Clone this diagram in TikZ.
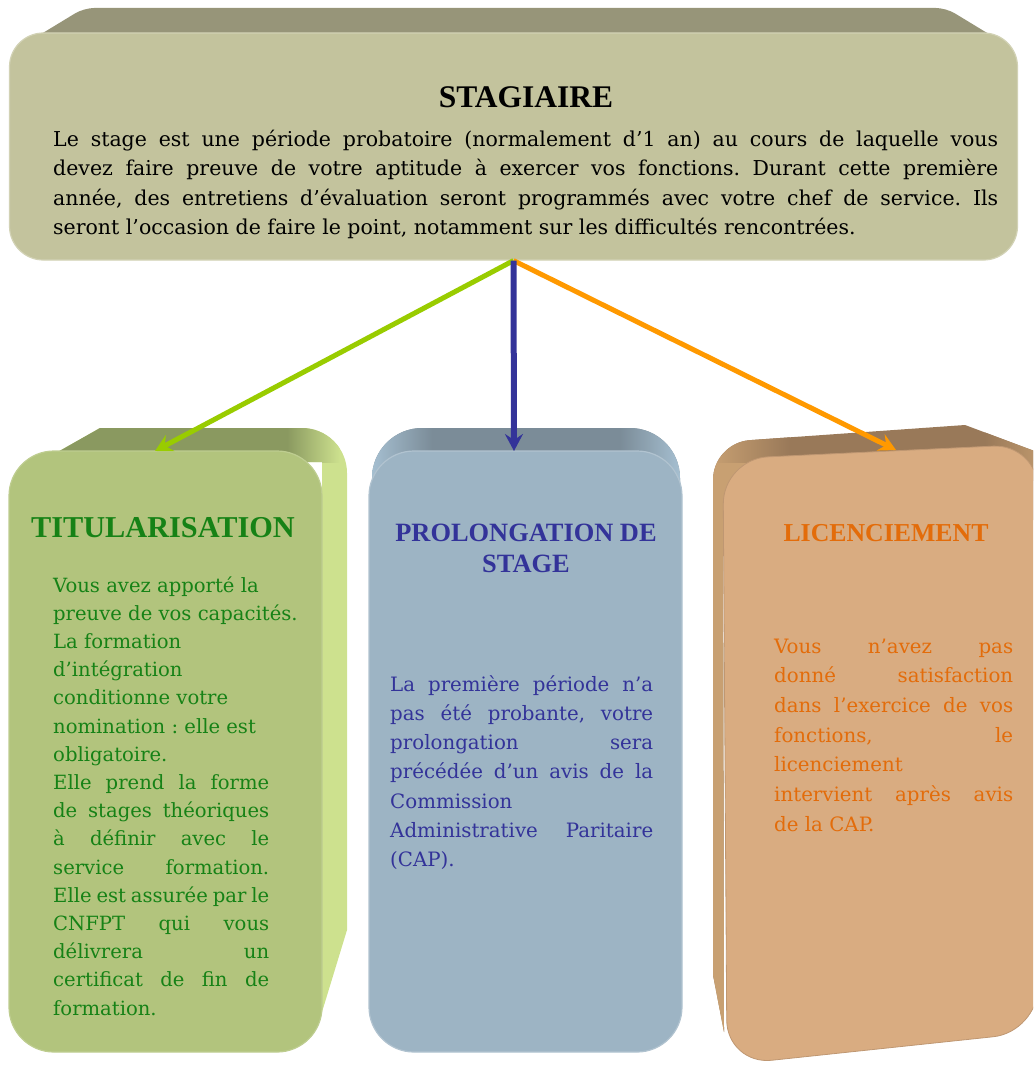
\documentclass[tikz,border=0pt]{standalone}
\usepackage{fontspec}
\setmainfont{DejaVu Serif}
\newfontfamily\titlefont{Liberation Serif}
\usetikzlibrary{arrows.meta}

% face colours
\definecolor{frontT}{RGB}{195,195,157}
\definecolor{topT}{RGB}{151,149,121}
\definecolor{frontL}{RGB}{178,196,125}
\definecolor{topL}{RGB}{138,153,96}
\definecolor{sideL}{RGB}{205,225,142}
\definecolor{frontM}{RGB}{157,180,196}
\definecolor{topM}{RGB}{123,140,152}
\definecolor{sideM}{RGB}{168,194,212}
\definecolor{frontR}{RGB}{217,172,129}
\definecolor{topR}{RGB}{153,121,89}
\definecolor{sideR}{RGB}{200,160,114}
% text and connector colours
\definecolor{txtL}{RGB}{22,130,22}
\definecolor{txtM}{RGB}{51,51,153}
\definecolor{txtR}{RGB}{227,108,10}
\definecolor{arrL}{RGB}{153,204,0}
\definecolor{arrM}{RGB}{51,51,153}
\definecolor{arrR}{RGB}{255,153,0}

% one line stretched to the column width, one line at its natural width
\newcommand\jline[1]{\hbox to \hsize{#1}}
\newcommand\nline[1]{\hbox{#1}}

\tikzset{
  frontface/.style={inner sep=0pt, rounded corners=#1},
  conn/.style={line width=5pt, -{Stealth[length=17pt,width=18pt,inset=6pt]}},
  bodytext/.style={anchor=base west, inner sep=0pt},
  boxtitle/.style={anchor=base, inner sep=0pt, font=\titlefont\bfseries},
}

\begin{document}
\frenchspacing
\begin{tikzpicture}[x=1pt,y=-1pt]
\useasboundingbox (0,0) rectangle (1033,1065);
\clip (0,0) rectangle (1033,1065);

% ---------- STAGIAIRE block ----------
\fill[topT, rounded corners=10] (28,42) -- (84,8) -- (946,8) -- (1002,42) -- cycle;
\node[frontface=34, fill=frontT, draw=frontT!75!white, line width=1.2pt,
      minimum width=1008pt, minimum height=227pt] (stagiaire) at (513.5,146.5) {};
\node[boxtitle, font=\titlefont\bfseries\fontsize{31.5}{36}\selectfont] (stagtitle) at (526,107) {STAGIAIRE};
\node[bodytext] (stagbody) at (53,146) {\vtop{\hsize=945pt \fontsize{20.5}{29.5}\selectfont
  \jline{Le stage est une période probatoire (normalement d’1 an) au cours de laquelle vous}
  \jline{devez faire preuve de votre aptitude à exercer vos fonctions. Durant cette première}
  \jline{année, des entretiens d’évaluation seront programmés avec votre chef de service. Ils}
  \nline{seront l’occasion de faire le point, notamment sur les difficultés rencontrées.}}};

% ---------- TITULARISATION block ----------
\def\silL{(40,462) -- (100,428) -- (302,428) arc[start angle=-90, end angle=0, radius=45]
  -- (347,930) -- (322,1012) -- (322,462) -- cycle}
\begin{scope}
  \clip \silL;
  \fill[sideL] (30,420) rectangle (350,1020);
  \fill[topL] (30,420) rectangle (288,462);
  \shade[left color=topL, right color=sideL] (287,420) rectangle (340,462);
\end{scope}
\node[frontface=45, fill=frontL, draw=frontL!85!white, line width=1.2pt,
      minimum width=313pt, minimum height=601pt] (titul) at (165.5,751.5) {};
\node[boxtitle, text=txtL, font=\titlefont\bfseries\fontsize{30.3}{34}\selectfont] (tittitle) at (163,537) {TITULARISATION};
\node[bodytext, text=txtL] (titbody) at (53,592) {\vtop{\hsize=216pt \fontsize{19.6}{28.2}\selectfont
  \nline{Vous avez apporté la}
  \nline{preuve de vos capacités.}
  \nline{La formation}
  \nline{d’intégration}
  \nline{conditionne votre}
  \nline{nomination : elle est}
  \nline{obligatoire.}
  \jline{Elle prend la forme}
  \jline{de stages théoriques}
  \jline{à définir avec le}
  \jline{service formation.}
  \jline{Elle est assurée par le}
  \jline{CNFPT qui vous}
  \jline{délivrera un}
  \jline{certificat de fin de}
  \nline{formation.}}};

% ---------- PROLONGATION block ----------
\def\silM{(372,530) -- (372,478) arc[start angle=180, end angle=270, radius=50]
  -- (630,428) arc[start angle=-90, end angle=0, radius=50] -- (680,530) -- cycle}
\fill[topM] \silM;
\begin{scope}
  \clip \silM;
  \shade[left color=sideM, right color=topM] (368,420) rectangle (432,530);
  \shade[left color=topM, right color=sideM] (620,420) rectangle (684,530);
\end{scope}
\node[frontface=45, fill=frontM, draw=frontM!80!white, line width=1.2pt,
      minimum width=313pt, minimum height=601pt] (prolong) at (525.5,751.5) {};
\node[boxtitle, text=txtM, font=\titlefont\bfseries\fontsize{26.4}{31}\selectfont] (protitle1) at (526,541) {PROLONGATION DE};
\node[boxtitle, text=txtM, font=\titlefont\bfseries\fontsize{26.4}{31}\selectfont] (protitle2) at (526,572) {STAGE};
\node[bodytext, text=txtM] (probody) at (390,691) {\vtop{\hsize=263pt \fontsize{19.8}{29.3}\selectfont
  \jline{La première période n’a}
  \jline{pas été probante, votre}
  \jline{prolongation sera}
  \jline{précédée d’un avis de la}
  \nline{Commission}
  \jline{Administrative Paritaire}
  \nline{(CAP).}}};

% ---------- LICENCIEMENT block ----------
\def\silR{(724,1032) -- (713,975) -- (713,480) arc[start angle=180, end angle=265, radius=40]
  -- (965,425) -- (1045,455) -- (1045,520) -- (723,520) -- cycle}
\fill[topR] \silR;
\begin{scope}
  \clip \silR;
  \fill[sideR] (705,462) rectangle (765,1065);
  \shade[left color=sideR, right color=topR] (710,420) rectangle (790,462);
  \shade[left color=topR, right color=sideR!85!topR] (985,420) rectangle (1045,480);
\end{scope}
\fill[frontR, draw=frontR!88!black, line width=0.8pt, rounded corners=45]
  (723,459) -- (1038,444) -- (1038,1032) -- (727,1065) -- cycle;
\coordinate (licenc) at (880,750);
\node[boxtitle, text=txtR, font=\titlefont\bfseries\fontsize{25.8}{31}\selectfont] (lictitle) at (886,541) {LICENCIEMENT};
\node[bodytext, text=txtR] (licbody) at (774,653) {\vtop{\hsize=239pt \fontsize{19.8}{29.7}\selectfont
  \jline{Vous n’avez pas}
  \jline{donné satisfaction}
  \jline{dans l’exercice de vos}
  \jline{fonctions, le}
  \nline{licenciement}
  \jline{intervient après avis}
  \nline{de la CAP.}}};

% ---------- connectors ----------
\coordinate (inL) at (155,451);
\coordinate (inM) at (514,451);
\coordinate (inR) at (896,450);
\draw[conn, arrL] (stagiaire.south) -- (inL);
\draw[conn, arrR] (stagiaire.south) -- (inR);
\draw[conn, arrM, line width=6pt] (stagiaire.south) -- (inM);
\end{tikzpicture}
\end{document}
